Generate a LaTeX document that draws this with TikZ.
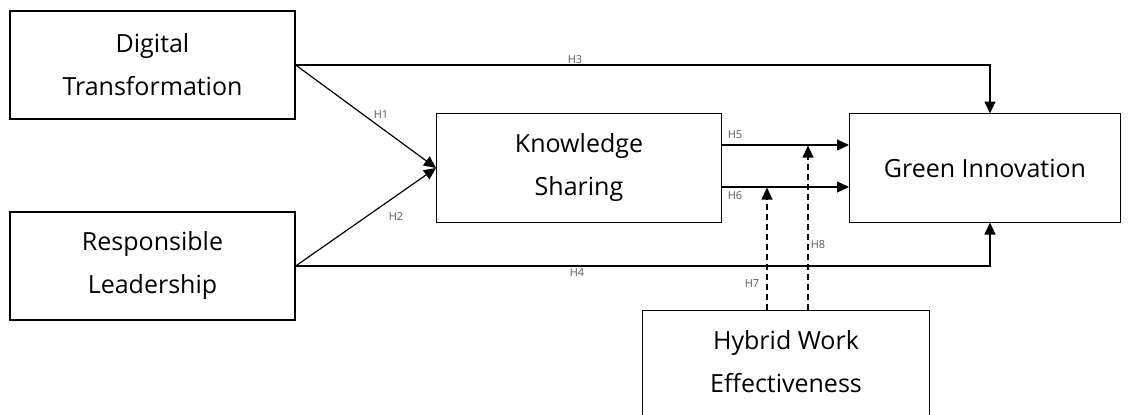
\documentclass[tikz,border=0pt]{standalone}
\usepackage{fontspec}
\setmainfont{Open Sans}
\usetikzlibrary{arrows.meta}
\begin{document}
\begin{tikzpicture}[x=1pt,y=-1pt,
  box/.style={draw,line width=1.3pt,minimum width=#1,align=center,font=\fontsize{25}{43}\selectfont,inner sep=0pt},
  box/.default=285pt,
  conn/.style={line width=1.2pt},
  arr/.style={conn,-{Triangle[length=12pt,width=11pt]}},
  dsh/.style={arr,dash pattern=on 6pt off 4pt},
  lbl/.style={font=\fontsize{11}{12}\selectfont,text=black!65,inner sep=0pt}]
\useasboundingbox (0,0) rectangle (1130,415);
\node[box=285pt,minimum height=108pt] (dt) at (152.5,65) {Digital\\Transformation};
\node[box=285pt,minimum height=108pt] (rl) at (152.5,266) {Responsible\\Leadership};
\node[box=285pt,minimum height=109pt] (ks) at (579,168) {Knowledge\\Sharing};
\node[box=271pt,minimum height=109pt] (gi) at (985,168) {Green Innovation};
\node[box=287pt,minimum height=130pt,anchor=north] (hw) at (786,310) {};
\node[font=\fontsize{25}{43}\selectfont,align=center] (hwt) at (786,362) {Hybrid Work\\Effectiveness};
\coordinate (gtop) at (990,113.5);
\coordinate (gbot) at (990,222.5);
\coordinate (c3) at (990,65);
\coordinate (c4) at (990,266);
\coordinate (tip12) at (436,168);
\coordinate (k5) at (722,145);
\coordinate (g5) at (849,145);
\coordinate (k6) at (722,187);
\coordinate (g6) at (849,187);
\coordinate (h7b) at (767,310);
\coordinate (h7t) at (767,187.6);
\coordinate (h8b) at (808,310);
\coordinate (h8t) at (808,145.6);
\draw[arr] (dt.east) -- (c3) -- (gtop);
\draw[arr] (rl.east) -- (c4) -- (gbot);
\draw[arr] (dt.east) -- (tip12);
\draw[arr] (rl.east) -- (tip12);
\draw[arr] (k5) -- (g5);
\draw[arr] (k6) -- (g6);
\draw[dsh] (h7b) -- (h7t);
\draw[dsh] (h8b) -- (h8t);
\node[lbl] (l3) at (575,60) {H3};
\node[lbl] (l4) at (577,273) {H4};
\node[lbl] (l1) at (381,115) {H1};
\node[lbl] (l2) at (396,217) {H2};
\node[lbl] (l5) at (735,135) {H5};
\node[lbl] (l6) at (735,196) {H6};
\node[lbl] (l7) at (752,284) {H7};
\node[lbl] (l8) at (818,245) {H8};
\end{tikzpicture}
\end{document}
